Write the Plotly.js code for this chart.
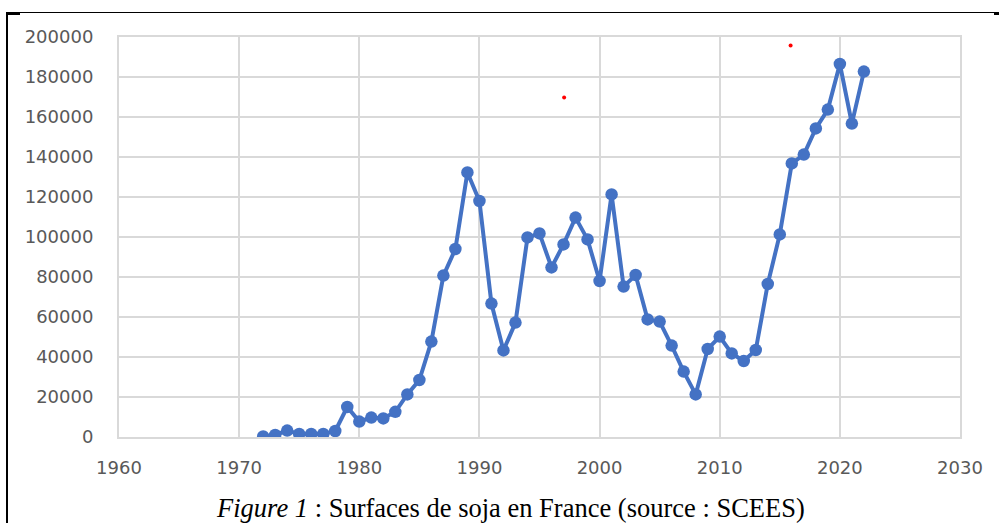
<!DOCTYPE html>
<html>
<head>
<meta charset="utf-8">
<script src="https://cdn.plot.ly/plotly-3.0.1.min.js"></script>
<style>
  html, body { margin: 0; padding: 0; background: #ffffff; }
  #wrap { position: relative; width: 999px; height: 523px; overflow: hidden; }
  #frameTop { position: absolute; left: 6px; top: 12px; width: 993px; height: 0; border-top: 1.5px solid #000; }
  #frameLeft { position: absolute; left: 6px; top: 12px; width: 0; height: 511px; border-left: 2px solid #000; }
  #nubL { position: absolute; left: 6px; top: 12px; width: 14px; height: 3px; background: #000; }
  #nubR { position: absolute; left: 994px; top: 12px; width: 5px; height: 3px; background: #000; }
  #chart { position: absolute; left: 0; top: 0; width: 999px; height: 523px; }
</style>
</head>
<body>
<div id="wrap">
  <div id="frameTop"></div>
  <div id="frameLeft"></div>
  <div id="nubL"></div>
  <div id="nubR"></div>
  <div id="chart"></div>
</div>
<script>
// Soybean area in France (ha)
var years = [1972, 1973, 1974, 1975, 1976, 1977, 1978, 1979, 1980, 1981,
             1982, 1983, 1984, 1985, 1986, 1987, 1988, 1989, 1990, 1991,
             1992, 1993, 1994, 1995, 1996, 1997, 1998, 1999, 2000, 2001,
             2002, 2003, 2004, 2005, 2006, 2007, 2008, 2009, 2010, 2011,
             2012, 2013, 2014, 2015, 2016, 2017, 2018, 2019, 2020, 2021,
             2022];
var surfaces = [300, 1000, 3200, 1500, 1500, 1500, 3000, 15000, 7700, 9700,
                9300, 12600, 21300, 28500, 47700, 80700, 94000, 132300, 118000, 66700,
                43300, 57200, 99800, 101800, 84800, 96300, 109700, 98800, 78000, 121300,
                75200, 81000, 58800, 57700, 45700, 32700, 21300, 44000, 50200, 41800,
                38000, 43500, 76500, 101300, 136800, 141200, 154300, 163700, 186500, 156700,
                182700];
// stray red dots visible in the picture
var strayX = [1997.05, 2015.9];
var strayY = [169700, 195700];

var xTicks = [1960, 1970, 1980, 1990, 2000, 2010, 2020, 2030];
var yTicks = [0, 20000, 40000, 60000, 80000, 100000, 120000, 140000, 160000, 180000, 200000];
var captionText = '<i>Figure 1</i> : Surfaces de soja en France (source : SCEES)';

var tickFont = { family: 'DejaVu Sans', size: 18, color: '#595959' };
var gridCol = '#d9d9d9';

var traces = [
  {
    x: years, y: surfaces, type: 'scatter', mode: 'lines+markers',
    line: { color: '#4472C4', width: 4 },
    marker: { color: '#4472C4', size: 12.5 },
    hoverinfo: 'x+y', showlegend: false
  },
  {
    x: strayX, y: strayY, type: 'scatter', mode: 'markers',
    marker: { color: '#ff0000', size: 4 },
    hoverinfo: 'skip', showlegend: false
  }
];

var layout = {
  width: 999, height: 523,
  margin: { l: 119, r: 39, t: 37, b: 86, pad: 0 },
  paper_bgcolor: 'rgba(0,0,0,0)',
  plot_bgcolor: 'rgba(0,0,0,0)',
  showlegend: false,
  xaxis: {
    range: [1960, 2030], tickmode: 'array', tickvals: xTicks, ticktext: xTicks.map(String),
    showgrid: true, gridcolor: gridCol, gridwidth: 2,
    showline: true, linecolor: gridCol, linewidth: 2, mirror: true,
    zeroline: false, ticks: '', tickfont: tickFont, ticklabelstandoff: 13
  },
  yaxis: {
    range: [0, 200000], tickmode: 'array', tickvals: yTicks, ticktext: yTicks.map(String),
    showgrid: true, gridcolor: gridCol, gridwidth: 2,
    showline: true, linecolor: gridCol, linewidth: 2, mirror: true,
    zeroline: false, ticks: '', tickfont: tickFont, ticklabelstandoff: 20
  },
  annotations: [
    {
      text: captionText, xref: 'paper', yref: 'paper', x: 0.4655, y: -0.136,
      xanchor: 'center', yanchor: 'top', showarrow: false,
      font: { family: 'Liberation Serif', size: 26.5, color: '#000000' }
    }
  ]
};

Plotly.newPlot('chart', traces, layout, { displayModeBar: false, staticPlot: true });
</script>
</body>
</html>
